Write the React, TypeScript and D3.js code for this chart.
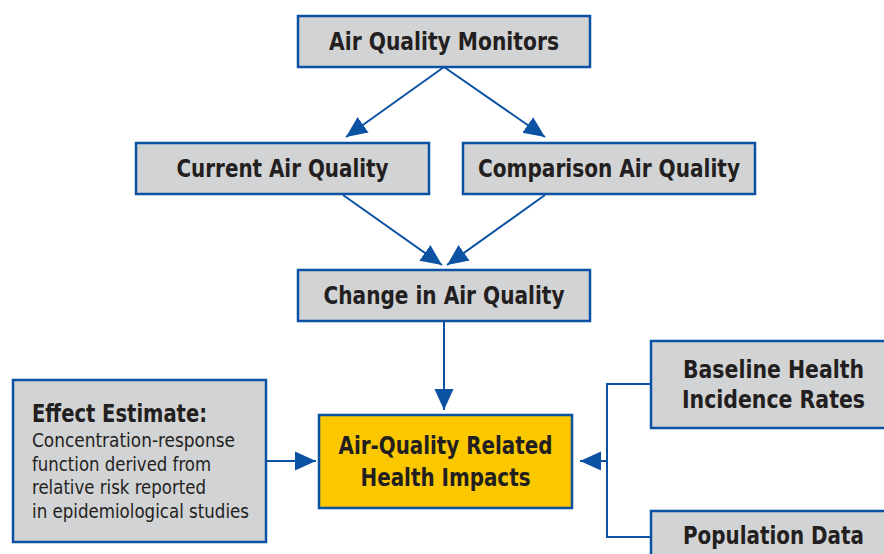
import React from "react";
import * as d3 from "d3";

// node labels
const stepLabels = [
  "Air Quality Monitors",
  "Current Air Quality",
  "Comparison Air Quality",
  "Change in Air Quality",
];
const impactLines = ["Air-Quality Related", "Health Impacts"];
const effectTitle = "Effect Estimate:";
const effectLines = [
  "Concentration-response",
  "function derived from",
  "relative risk reported",
  "in epidemiological studies",
];
const baselineLines = ["Baseline Health", "Incidence Rates"];
const populationLines = ["Population Data"];

const W = 884;
const H = 554;
const BLUE = "#0b52a3";
const GREY = "#d2d3d5";
const GOLD = "#fbc800";
const INK = "#231f20";
const FONT = "'DejaVu Sans Condensed', 'Liberation Sans Narrow', sans-serif";

// the original uses a condensed face, so each line is squeezed to its width
const textWidth: Record<string, number> = {
  "Air Quality Monitors": 230,
  "Current Air Quality": 212,
  "Comparison Air Quality": 262,
  "Change in Air Quality": 241,
  "Air-Quality Related": 214,
  "Health Impacts": 170,
  "Baseline Health": 181,
  "Incidence Rates": 183,
  "Population Data": 181,
  "Effect Estimate:": 175,
  "Concentration-response": 203,
  "function derived from": 179,
  "relative risk reported": 174,
  "in epidemiological studies": 217,
};

type Box = { x: number; y: number; w: number; h: number };

// layout
const stepBoxes: Box[] = [
  { x: 298, y: 16, w: 292, h: 51 },
  { x: 136, y: 143, w: 293, h: 51 },
  { x: 463, y: 143, w: 292, h: 51 },
  { x: 298, y: 270, w: 292, h: 51 },
];
const impactBox: Box = { x: 319, y: 415, w: 253, h: 93 };
const effectBox: Box = { x: 13, y: 380, w: 253, h: 162 };
const baselineBox: Box = { x: 651, y: 341, w: 240, h: 87 };
const populationBox: Box = { x: 651, y: 511, w: 240, h: 60 };

const line = d3.line<[number, number]>();

const arrows: [number, number][][] = [
  [[444, 67], [346, 137]],
  [[444, 67], [545, 137]],
  [[343, 195], [442, 265]],
  [[545, 195], [447, 265]],
  [[444, 321], [444, 410]],
  [[266, 461], [316, 461]],
  [[607, 461], [580, 461]],
];
const connector: [number, number][] = [
  [651, 384],
  [607, 384],
  [607, 537],
  [651, 537],
];

function BoxRect({ b, fill }: { b: Box; fill: string }) {
  return (
    <rect
      x={b.x}
      y={b.y}
      width={b.w}
      height={b.h}
      fill={fill}
      stroke={BLUE}
      strokeWidth={2.5}
    />
  );
}

function Label({
  x,
  y,
  t,
  size,
  bold,
  anchor,
}: {
  x: number;
  y: number;
  t: string;
  size: number;
  bold?: boolean;
  anchor?: string;
}) {
  return (
    <text
      x={x}
      y={y}
      fontFamily={FONT}
      fontWeight={bold ? "bold" : "normal"}
      fontSize={size}
      fill={INK}
      textAnchor={anchor ?? "start"}
      textLength={textWidth[t]}
      lengthAdjust="spacingAndGlyphs"
    >
      {t}
    </text>
  );
}

function CenterText({ cx, cy, lines, gap }: { cx: number; cy: number; lines: string[]; gap: number }) {
  const top = cy - ((lines.length - 1) * gap) / 2;
  return (
    <g>
      {lines.map((t, i) => (
        <Label key={i} x={cx} y={top + i * gap + 8.6} t={t} size={24} bold anchor="middle" />
      ))}
    </g>
  );
}

export default function App() {
  return (
    <svg
      width={W}
      height={H}
      style={{ position: "absolute", left: 0, top: 0, background: "#fff" }}
    >
      <defs>
        <marker
          id="head"
          markerUnits="userSpaceOnUse"
          markerWidth={24}
          markerHeight={22}
          viewBox="0 -11 24 22"
          refX={21}
          refY={0}
          orient="auto"
        >
          <path d="M0,-9.5L21,0L0,9.5Z" fill={BLUE} />
        </marker>
      </defs>

      {arrows.map((a, i) => (
        <path
          key={i}
          d={line(a) ?? ""}
          stroke={BLUE}
          strokeWidth={2}
          fill="none"
          markerEnd="url(#head)"
        />
      ))}
      <path d={line(connector) ?? ""} stroke={BLUE} strokeWidth={2} fill="none" />

      {stepBoxes.map((b, i) => (
        <g key={i}>
          <BoxRect b={b} fill={GREY} />
          <CenterText cx={b.x + b.w / 2} cy={b.y + b.h / 2} lines={[stepLabels[i]]} gap={0} />
        </g>
      ))}

      <BoxRect b={impactBox} fill={GOLD} />
      <CenterText cx={impactBox.x + impactBox.w / 2} cy={impactBox.y + impactBox.h / 2} lines={impactLines} gap={32} />

      <BoxRect b={baselineBox} fill={GREY} />
      <CenterText cx={773.5} cy={baselineBox.y + baselineBox.h / 2} lines={baselineLines} gap={30} />

      <BoxRect b={populationBox} fill={GREY} />
      <Label x={773.5} y={544} t={populationLines[0]} size={24} bold anchor="middle" />

      <BoxRect b={effectBox} fill={GREY} />
      <Label x={32} y={422} t={effectTitle} size={24} bold />
      {effectLines.map((t, i) => (
        <Label key={i} x={32} y={447 + i * 23.5} t={t} size={19} />
      ))}
    </svg>
  );
}
